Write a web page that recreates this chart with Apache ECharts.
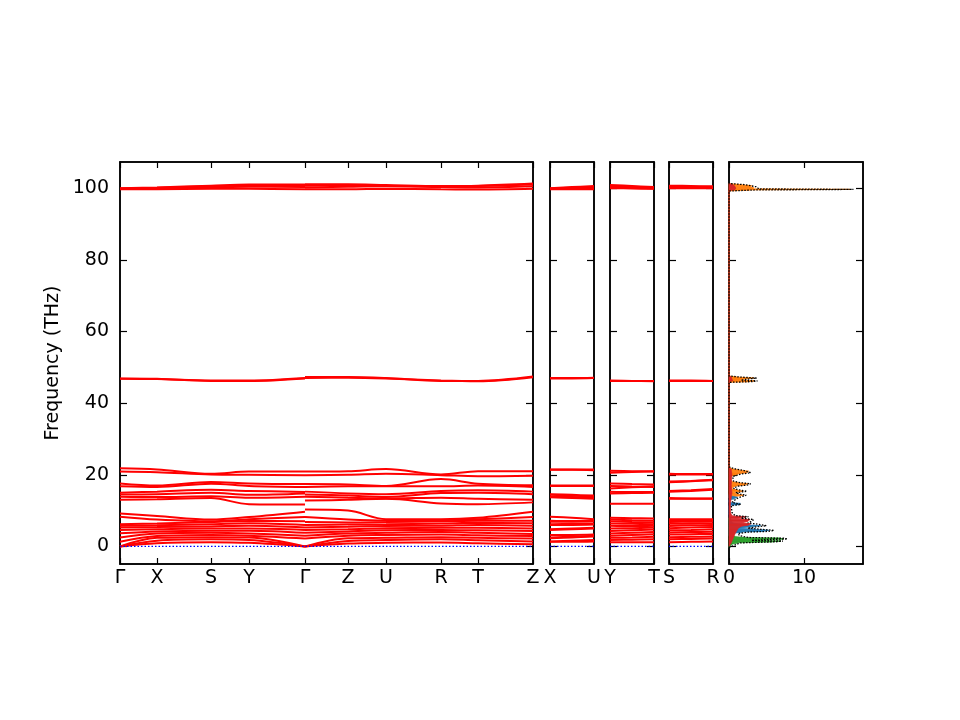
<!DOCTYPE html>
<html><head><meta charset="utf-8">
<script src="https://cdn.jsdelivr.net/npm/echarts@6/dist/echarts.min.js"></script>
<style>html,body{margin:0;padding:0;background:#fff}#c{width:960px;height:720px}</style>
</head><body><div id="c"></div>
<script>
// ---- k-path ----
var kPos1 = [0, 37, 91, 129, 185, 228, 266, 321, 358, 413];
var kLab1 = ['Γ', 'X', 'S', 'Y', 'Γ', 'Z', 'U', 'R', 'T', 'Z'];
var kPosA = [0, 37, 91, 129, 185];
var kPosB = [185, 228, 266, 321, 358, 413];
var kPosSide = [0, 22, 44];
var sideTicks = [0, 44];
var labXU = ['X', 'U'];
var labYT = ['Y', 'T'];
var labSR = ['S', 'R'];
var freqTicks = [0, 20, 40, 60, 80, 100];
var dosTicks = [0, 10];
var zeroLine = [0, 0];

// ---- bands (THz) ----
var bandsA = [
  [0, 0.9, 1.2, 1.0, 0], [0, 1.6, 2.0, 1.8, 0], [0, 2.4, 2.6, 2.5, 0],
  [1.3, 2.9, 3.2, 3.0, 2.2], [2.5, 3.6, 3.8, 3.6, 3.0], [3.7, 4.2, 4.4, 4.4, 3.8],
  [4.6, 4.8, 5.0, 5.0, 4.6], [5.3, 5.4, 5.6, 5.8, 5.3], [5.8, 5.9, 6.2, 6.5, 6.0],
  [6.2, 6.4, 6.8, 7.1, 7.0], [8.3, 7.5, 7.0, 7.6, 8.2], [9.2, 8.5, 7.5, 8.2, 9.7],
  [13.0, 13.2, 13.5, 11.8, 11.7], [13.9, 13.8, 14.0, 13.6, 13.9], [14.5, 14.6, 15.0, 14.4, 14.8],
  [15.0, 15.3, 15.8, 15.5, 15.2], [16.8, 16.6, 17.5, 16.9, 16.6], [17.6, 17.0, 18.0, 17.6, 17.4],
  [20.9, 20.7, 20.1, 20.0, 19.9], [21.8, 21.5, 20.3, 20.9, 20.9],
  [46.9, 46.8, 46.2, 46.2, 46.9], [46.8, 46.7, 46.3, 46.3, 47.0],
  [99.7, 99.7, 99.8, 99.8, 99.7], [99.8, 99.9, 100.2, 100.4, 100.3],
  [99.9, 100.1, 100.5, 100.8, 100.7], [100.0, 100.2, 100.7, 101.0, 101.0]
];
var bandsB = [
  [0, 0.8, 1.0, 1.1, 0.9, 0.6], [0, 1.5, 1.8, 2.0, 1.7, 1.4], [0, 2.3, 2.4, 2.6, 2.4, 2.2],
  [2.2, 3.0, 3.2, 3.3, 3.1, 2.9], [3.0, 3.6, 3.8, 4.0, 3.8, 3.5], [3.8, 4.2, 4.5, 4.6, 4.5, 4.3],
  [4.6, 4.8, 5.1, 5.2, 5.2, 5.0], [5.3, 5.5, 5.7, 5.8, 6.0, 5.8], [6.0, 6.1, 6.2, 6.4, 6.6, 6.5],
  [6.8, 6.7, 6.8, 7.0, 7.2, 7.2], [8.2, 7.5, 7.2, 7.3, 7.6, 8.2], [10.3, 10.0, 7.6, 7.6, 8.0, 9.7],
  [12.8, 13.0, 13.3, 12.0, 11.8, 12.3], [13.9, 13.6, 13.4, 13.6, 13.3, 13.0], [14.5, 14.2, 13.8, 14.9, 15.0, 14.6],
  [15.3, 14.8, 14.6, 15.5, 15.7, 15.3], [16.6, 16.8, 16.8, 16.8, 17.0, 16.6], [17.4, 17.3, 16.9, 18.8, 17.5, 17.1],
  [19.9, 20.0, 20.3, 19.9, 19.6, 19.7], [20.9, 21.0, 21.6, 20.1, 21.0, 21.0],
  [47.3, 47.3, 47.0, 46.2, 46.2, 47.4], [47.0, 47.1, 46.9, 46.3, 46.1, 47.2],
  [99.7, 99.7, 99.8, 99.7, 99.6, 99.8], [100.2, 100.4, 100.5, 100.3, 100.2, 100.5],
  [100.7, 100.8, 100.6, 100.5, 100.6, 101.0], [101.1, 101.1, 100.9, 100.6, 100.7, 101.3]
];
var bandsXU = [
  [1.3, 1.3, 1.4], [1.4, 1.6, 1.8], [2.3, 2.5, 2.8], [2.5, 2.7, 3.0], [3.2, 3.2, 3.3], [4.6, 4.8, 5.0],
  [4.8, 5.0, 5.2], [6.0, 6.0, 6.1], [6.2, 6.3, 6.4], [6.9, 6.9, 7.0], [7.2, 7.1, 7.1], [8.3, 8.0, 7.6],
  [13.7, 13.5, 13.3], [13.9, 13.8, 13.6], [14.4, 14.2, 13.9], [14.6, 14.4, 14.2], [16.9, 16.9, 16.9], [17.0, 17.0, 17.0],
  [21.4, 21.4, 21.3], [21.5, 21.5, 21.5], [47.0, 47.0, 47.1], [46.9, 46.9, 47.0],
  [99.7, 99.7, 99.7], [99.8, 99.9, 100.0], [99.9, 100.1, 100.3], [100.0, 100.3, 100.6]
];
var bandsYT = [
  [1.2, 1.2, 1.2], [1.8, 1.9, 2.0], [2.4, 2.5, 2.7], [3.0, 3.2, 3.4], [3.6, 3.8, 4.0], [4.3, 4.5, 4.7],
  [5.0, 5.1, 5.3], [5.8, 5.7, 5.8], [6.4, 6.3, 6.2], [7.0, 6.8, 6.7], [7.5, 7.3, 7.2], [8.0, 7.9, 7.8],
  [11.9, 11.9, 11.9], [14.8, 14.9, 15.0], [15.3, 15.2, 15.2], [16.2, 16.5, 16.8], [16.9, 16.7, 16.6], [17.6, 17.4, 17.3],
  [20.6, 20.8, 21.0], [21.1, 21.0, 20.9], [46.2, 46.2, 46.2], [46.3, 46.2, 46.1],
  [100.0, 99.9, 99.8], [100.3, 100.1, 99.9], [100.6, 100.4, 100.1], [100.9, 100.6, 100.3]
];
var bandsSR = [
  [1.2, 1.3, 1.4], [2.0, 2.1, 2.2], [2.6, 2.7, 2.8], [3.3, 3.4, 3.5], [3.9, 4.0, 4.1], [4.5, 4.6, 4.8],
  [5.1, 5.3, 5.4], [5.7, 5.9, 6.0], [6.3, 6.4, 6.5], [6.8, 6.9, 7.0], [7.2, 7.3, 7.4], [7.6, 7.6, 7.6],
  [13.3, 13.3, 13.3], [13.5, 13.4, 13.4], [15.3, 15.5, 15.8], [15.5, 15.7, 16.0], [17.9, 18.2, 18.5], [18.1, 18.3, 18.6],
  [20.1, 20.1, 20.1], [20.3, 20.2, 20.2], [46.2, 46.2, 46.2], [46.3, 46.3, 46.2],
  [100.0, 100.0, 100.0], [100.2, 100.2, 100.2], [100.5, 100.4, 100.3], [100.7, 100.6, 100.5]
];

// ---- DOS: [frequency, states] ----
var dosGreen = [[-0.3,0],[0.6,0.4],[1.0,1.2],[1.3,5.8],[1.5,6.9],[1.7,2.5],[1.9,4.5],[2.1,7.3],[2.3,6.8],[2.5,2.0],[2.8,0.8],[3.2,0.4],[4.0,0.2],[6.0,0.1],[8.0,0]];
var dosBlue = [[3.0,0],[3.6,0.4],[4.0,1.8],[4.2,4.6],[4.5,5.3],[4.8,3.5],[5.1,1.2],[5.5,3.0],[5.8,4.2],[6.1,2.2],[6.5,0.6],[7.0,0.3],[8.0,0.2],[9.0,0],[11.4,0],[11.7,1.3],[12.0,1.5],[12.3,0],[13.0,0],[13.3,0.7],[13.7,1.1],[14.1,0.2],[14.5,0]];
var dosRed = [[0,0],[1,0.3],[2.5,0.6],[3.5,0.8],[5.0,1.2],[5.6,1.6],[6.0,2.6],[6.3,2.9],[6.6,1.8],[7.0,2.5],[7.5,2.8],[7.9,1.2],[8.3,2.2],[8.6,0.4],[9.5,0.2],[12,0.2],[15,0.4],[17,0.3],[20,0.4],[21.5,0.3],[22,0],[45.9,0],[46.3,0.5],[46.7,0.4],[47.3,0.3],[47.6,0],[99.3,0],[99.6,0.8],[100.0,0.9],[100.5,0.8],[101.0,0.5],[101.3,0]];
var dosOrange = [[13.5,0],[13.9,0.8],[14.3,1.9],[14.6,1.2],[15.0,0.6],[15.4,1.9],[15.8,1.0],[16.2,0.3],[16.8,0.8],[17.2,2.2],[17.5,2.5],[17.8,1.2],[18.2,0.3],[19.5,0.2],[20.2,1.2],[20.6,2.4],[21.0,2.6],[21.3,1.4],[21.7,0.4],[22.2,0],[45.8,0],[46.0,2.6],[46.2,3.4],[46.4,1.2],[46.7,2.0],[47.0,3.3],[47.3,1.0],[47.6,0],[99.2,0],[99.5,2.8],[99.65,16.1],[99.8,3.2],[100.1,3.3],[100.4,2.8],[100.7,3.0],[101.0,1.5],[101.3,0]];
var dosTotal = [[-0.3,0],[1.0,1.5],[1.3,6.2],[1.5,7.2],[1.7,3.0],[1.9,5.0],[2.1,7.8],[2.3,7.3],[2.5,2.6],[3.0,1.4],[3.6,1.2],[4.0,2.5],[4.2,5.2],[4.5,6.0],[4.8,4.2],[5.1,2.5],[5.5,3.8],[5.8,5.0],[6.1,4.2],[6.3,4.0],[6.6,2.5],[7.0,3.0],[7.5,3.3],[7.9,1.6],[8.3,2.6],[8.6,0.8],[9.5,0.4],[11.4,0.3],[11.7,1.6],[12.0,1.8],[12.3,0.4],[13.3,1.0],[13.7,1.4],[14.3,2.3],[14.6,1.5],[15.0,0.9],[15.4,2.4],[15.8,1.3],[16.2,0.6],[16.8,1.1],[17.2,2.6],[17.5,2.9],[17.8,1.5],[18.2,0.6],[19.5,0.5],[20.2,1.6],[20.6,2.9],[21.0,3.1],[21.3,1.8],[21.7,0.7],[22.2,0],[45.8,0],[46.0,3.0],[46.2,3.8],[46.4,1.6],[46.7,2.4],[47.0,3.7],[47.3,1.3],[47.6,0],[99.2,0],[99.5,3.5],[99.65,16.6],[99.8,4.0],[100.1,4.2],[100.4,3.6],[100.7,3.6],[101.0,2.0],[101.3,0]];

// ---- layout ----
var FONT = 'DejaVu Sans';
var FS = 19;
var TOP = 162, H = 402;
var YMIN = -4.9, YMAX = 107.3;
var panels = [
  {left: 120, width: 413, xmax: 413, ticks: kPos1, labels: kLab1},
  {left: 550, width: 44, xmax: 44, ticks: sideTicks, labels: labXU},
  {left: 610, width: 44, xmax: 44, ticks: sideTicks, labels: labYT},
  {left: 669, width: 44, xmax: 44, ticks: sideTicks, labels: labSR},
  {left: 729, width: 134, xmax: 17.87, ticks: dosTicks, labels: null}
];

function makeFmt(p) {
  return function (v) {
    if (!p.labels) return String(v);
    var i = p.ticks.indexOf(v);
    return i >= 0 ? p.labels[i] : '';
  };
}

var grid = [], xAxis = [], yAxis = [];
panels.forEach(function (p, g) {
  grid.push({left: p.left, top: TOP, width: p.width, height: H, show: true,
    borderColor: '#000', borderWidth: 1.5, backgroundColor: 'transparent'});
  var fmt = makeFmt(p);
  ['bottom', 'top'].forEach(function (pos) {
    xAxis.push({type: 'value', gridIndex: g, position: pos, min: 0, max: p.xmax,
      axisLine: {show: true, onZero: false, lineStyle: {color: '#000', width: 1.5}},
      axisTick: {show: true, inside: true, length: 6, customValues: p.ticks, lineStyle: {color: '#000', width: 1.2}},
      axisLabel: {show: pos === 'bottom', customValues: p.ticks, formatter: fmt, margin: 5,
        color: '#000', fontSize: FS, fontFamily: FONT},
      splitLine: {show: false}});
  });
  ['left', 'right'].forEach(function (pos) {
    var ax = {type: 'value', gridIndex: g, position: pos, min: YMIN, max: YMAX,
      axisLine: {show: true, onZero: false, lineStyle: {color: '#000', width: 1.5}},
      axisTick: {show: true, inside: true, length: 7, customValues: freqTicks, lineStyle: {color: '#000', width: 1.2}},
      axisLabel: {show: g === 0 && pos === 'left', customValues: freqTicks, margin: 11,
        color: '#000', fontSize: FS, fontFamily: FONT},
      splitLine: {show: false}};
    if (g === 0 && pos === 'left') {
      ax.name = 'Frequency (THz)';
      ax.nameLocation = 'middle';
      ax.nameGap = 57;
      ax.nameTextStyle = {color: '#000', fontSize: FS, fontFamily: FONT};
    }
    yAxis.push(ax);
  });
});

var series = [];
function addBands(xs, bands, g) {
  bands.forEach(function (b) {
    series.push({type: 'line', xAxisIndex: 2 * g, yAxisIndex: 2 * g,
      data: b.map(function (v, i) { return [xs[i], v]; }), smooth: 0.35, symbol: 'none', silent: true,
      lineStyle: {color: '#ff0000', width: 2}, z: 3});
  });
}
addBands(kPosA, bandsA, 0);
addBands(kPosB, bandsB, 0);
addBands(kPosSide, bandsXU, 1);
addBands(kPosSide, bandsYT, 2);
addBands(kPosSide, bandsSR, 3);
panels.slice(0, 4).forEach(function (p, g) {
  series.push({type: 'line', xAxisIndex: 2 * g, yAxisIndex: 2 * g,
    data: [[0, zeroLine[0]], [p.xmax, zeroLine[1]]], symbol: 'none', silent: true,
    lineStyle: {color: '#0000ff', width: 1.2, type: [1.5, 2]}, z: 4});
});

function dosFill(arr, color) {
  var segs = [];
  for (var i = 0; i < arr.length - 1; i++) segs.push([arr[i][0], arr[i][1], arr[i + 1][0], arr[i + 1][1]]);
  series.push({type: 'custom', coordinateSystem: 'cartesian2d', xAxisIndex: 8, yAxisIndex: 8,
    data: segs, encode: {x: [1, 3], y: [0, 2]}, silent: true, z: 3,
    renderItem: function (params, api) {
      var f1 = api.value(0), d1 = api.value(1), f2 = api.value(2), d2 = api.value(3);
      var pts = [api.coord([0, f1]), api.coord([d1, f1]), api.coord([d2, f2]), api.coord([0, f2])];
      return {type: 'polygon', shape: {points: pts}, style: {fill: color, stroke: color, lineWidth: 0.6}};
    }});
}
dosFill(dosOrange, '#ff7f0e');
dosFill(dosBlue, '#1f77b4');
dosFill(dosGreen, '#2ca02c');
dosFill(dosRed, '#d62728');
series.push({type: 'line', xAxisIndex: 8, yAxisIndex: 8,
  data: dosTotal.map(function (p) { return [p[1], p[0]]; }),
  symbol: 'none', silent: true, lineStyle: {color: '#000', width: 1.3, type: [1.5, 1.5]}, z: 5});

var chart = echarts.init(document.getElementById('c'), null, {renderer: 'canvas'});
chart.setOption({animation: false, backgroundColor: '#fff', grid: grid, xAxis: xAxis, yAxis: yAxis, series: series});
</script></body></html>
